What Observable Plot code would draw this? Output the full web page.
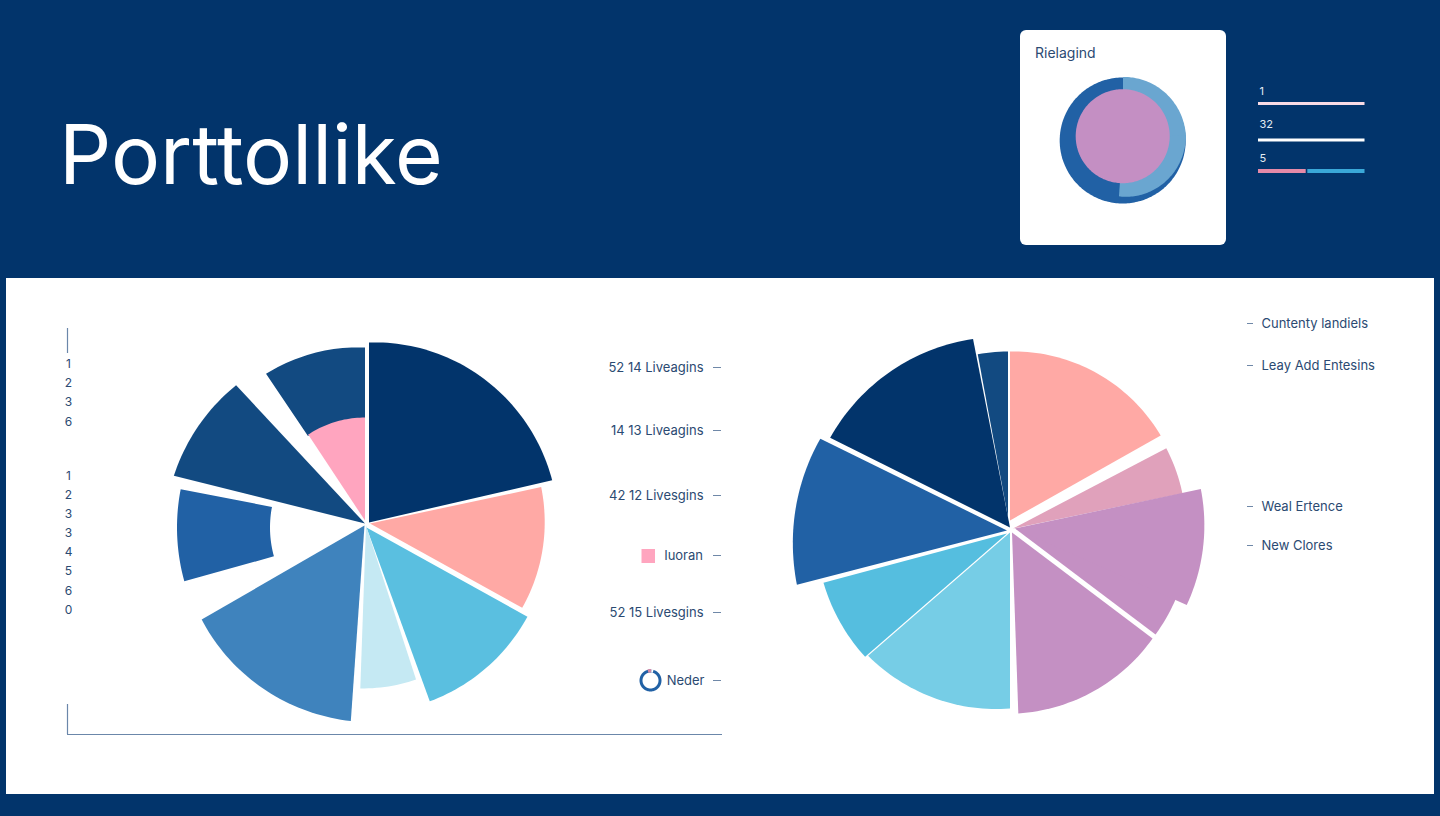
<!DOCTYPE html>
<html>
<head>
<meta charset="utf-8">
<script src="https://cdn.jsdelivr.net/npm/d3@7"></script>
<script src="https://cdn.jsdelivr.net/npm/@observablehq/plot@0.6"></script>
<style>
  html, body { margin: 0; padding: 0; background: #02346b; width: 1440px; height: 816px; overflow: hidden; font-family: Inter, sans-serif; }
  #title { position: absolute; left: 59px; top: 105px; margin: 0; font: 400 82px/100px Inter, sans-serif; color: #fff; }
  #panel { position: absolute; left: 6px; top: 278px; width: 1428px; height: 516px; background: #fff; }
  #card { position: absolute; left: 1020px; top: 30px; width: 206px; height: 215px; background: #fff; border-radius: 6px; }
  #cardTitle { position: absolute; left: 15px; top: 14px; font: 400 14px/17px Inter, sans-serif; color: #2b4a72; }
  #chart { position: absolute; left: 0; top: 0; }
  #chart svg { display: block; background: transparent; }
</style>
</head>
<body>
<h1 id="title">Porttollike</h1>
<div id="panel"></div>
<div id="card"><div id="cardTitle">Rielagind</div></div>
<div id="chart"></div>
<script>
// ---- Left pie (clockwise degrees from north, radii in px units) ----
const pie1Start  = [  0,  78, 119, 162, 184, 254.5, 284, 326, 326.5];
const pie1End    = [ 77, 119, 160, 182, 240, 281, 317, 360, 360];
const pie1RadiusA = [180, 175, 184, 162, 196, 201, 197, 177, 103];
const pie1RadiusB = [188, 174, 185, 163, 188, 201, 189, 173, 103];
const pie1Inner  = [  0,   0,   0,   0,   0, 108,   0, 102,   0];
const pie1ApexX  = [368.5, 369.5, 366, 365.5, 364, 377.5, 364.5, 364.5, 364.5];
const pie1ApexY  = [522, 523, 527, 525, 525, 527, 523, 520, 520];
const pie1Colors = ["#02346b", "#ffa9a5", "#5abfe0", "#c5e9f3", "#3f83bd", "#2161a5", "#124a81", "#124a81", "#ffa5bf"];

// ---- Right pie ----
const pie2Start  = [  0, 62.4, 100, 78, 127, 180, 229, 255.5, 296.5, 349.5];
const pie2End    = [ 60.6, 78.3, 127, 114, 178, 229, 255, 296.2, 348.9, 360];
const pie2RadiusA = [169, 173, 175, 190, 176, 176, 188, 217, 201, 166];
const pie2RadiusB = [173, 173, 176, 188, 181, 188, 190, 208, 192, 166];
const pie2ApexX  = [1009.5, 1012.5, 1014.5, 1014.5, 1011.5, 1009.5, 1006.5, 1006.5, 1009.5, 1007.5];
const pie2ApexY  = [ 520,  528,  528,  528,  532,  532,  533,  530,  527,  517];
const pie2Colors = ["#ffa9a5", "#e0a1bb", "#c490c3", "#c490c3", "#c490c3", "#76cde6", "#55bedf", "#2161a5", "#02346b", "#124a81"];

// ---- Card donut ----
const donutStart  = [0, 0, 87, 0];
const donutEnd    = [360, 90, 184, 360];
const donutRadiusA = [63, 61.5, 63, 47];
const donutRadiusB = [63, 63, 58, 47];
const donutApexX  = [1122.2, 1122.5, 1122.5, 1122.2];
const donutApexY  = [140, 138, 138, 135.7];
const donutColors = ["#2161a5", "#6aa6d0", "#6aa6d0", "#c48fc3"];

// ---- Mini-legend in the header ----
const miniLabels = ["1", "32", "5"];
const miniLabelY = [91, 124, 158];
const miniBarFrom = [1258, 1258, 1258, 1307.3];
const miniBarTo   = [1364.5, 1364.5, 1305.7, 1364.5];
const miniBarY    = [103, 139.5, 170.5, 170.5];
const miniBarHeight = [3.2, 3.2, 4, 4];
const miniBarColors = ["#f9dbe5", "#ffffff", "#e58aa8", "#3aa8d8"];

// ---- Left tick labels ----
const tickLabels = ["1", "2", "3", "6", "1", "2", "3", "3", "4", "5", "6", "0"];
const tickY = [364, 383, 402, 422, 476, 495, 514, 533, 552, 571, 591, 610];

// ---- Labels between the pies ----
const midLabels = ["52 14 Liveagins", "14 13 Liveagins", "42 12 Livesgins", "Iuoran", "52 15 Livesgins", "Neder"];
const midY = [367, 430, 495, 555, 612, 680];
const midEndX = [703, 703, 703, 702.5, 703, 704];

// ---- Labels at the right ----
const rightLabels = ["Cuntenty landiels", "Leay Add Entesins", "Weal Ertence", "New Clores"];
const rightY = [323, 365, 506, 545];

const rad = d => d * Math.PI / 180;
function polar(cx, cy, r, deg) {
  return {x: cx + r * Math.sin(rad(deg)), y: cy - r * Math.cos(rad(deg))};
}
function slicePoints(cx, cy, a0, a1, r0, r1, inner) {
  const n = Math.max(2, Math.ceil(Math.abs(a1 - a0) / 1.5));
  const pts = [];
  for (let i = 0; i <= n; ++i) {
    const t = i / n;
    pts.push(polar(cx, cy, r0 + (r1 - r0) * t, a0 + (a1 - a0) * t));
  }
  if (inner) {
    for (let i = n; i >= 0; --i) {
      pts.push(polar(cx, cy, inner, a0 + (a1 - a0) * i / n));
    }
  } else if (a1 - a0 < 360) {
    pts.push({x: cx, y: cy});
  }
  return pts;
}
function sliceMarks(start, end, ra, rb, inner, ax, ay, colors) {
  return start.map((s, i) =>
    Plot.line(slicePoints(ax[i], ay[i], s, end[i], ra[i], rb[i], inner ? inner[i] : 0),
      {x: "x", y: "y", fill: colors[i], stroke: "none", curve: "linear"}));
}

const ink = "#2b4a72";
const ruleInk = "#6b87aa";
const tickX = 68, midDashA = 713, midDashB = 721, rightDashA = 1247, rightDashB = 1253, rightTextX = 1261;

const plot = Plot.plot({
  width: 1440, height: 816,
  margin: 0,
  x: {domain: [0, 1440], range: [0, 1440], axis: null},
  y: {domain: [0, 816], range: [0, 816], axis: null},
  style: {fontFamily: "Inter, sans-serif", background: "transparent"},
  marks: [
    // frame rules
    Plot.ruleX([67], {y1: 328, y2: 353, stroke: ruleInk, strokeWidth: 1.2}),
    Plot.ruleX([67], {y1: 704, y2: 734, stroke: ruleInk, strokeWidth: 1.2}),
    Plot.ruleY([734], {x1: 67, x2: 722, stroke: ruleInk, strokeWidth: 1.2}),

    // pies
    ...sliceMarks(pie1Start, pie1End, pie1RadiusA, pie1RadiusB, pie1Inner, pie1ApexX, pie1ApexY, pie1Colors),
    ...sliceMarks(pie2Start, pie2End, pie2RadiusA, pie2RadiusB, null, pie2ApexX, pie2ApexY, pie2Colors),
    ...sliceMarks(donutStart, donutEnd, donutRadiusA, donutRadiusB, null, donutApexX, donutApexY, donutColors),

    // left ticks
    Plot.text(tickLabels, {x: () => tickX, y: (d, i) => tickY[i], text: d => d, fill: ink, fontSize: 12, textAnchor: "middle"}),

    // middle labels
    Plot.text(midLabels, {x: (d, i) => midEndX[i], y: (d, i) => midY[i], text: d => d, fill: ink, fontSize: 13, textAnchor: "end"}),
    Plot.ruleY(midY, {x1: midDashA, x2: midDashB, stroke: "#6f88a8", strokeWidth: 1}),

    // right labels
    Plot.text(rightLabels, {x: () => rightTextX, y: (d, i) => rightY[i], text: d => d, fill: ink, fontSize: 13, textAnchor: "start"}),
    Plot.ruleY(rightY, {x1: rightDashA, x2: rightDashB, stroke: "#6f88a8", strokeWidth: 1}),

    // swatch beside "Iuoran"
    Plot.rect([0], {x1: 641.5, x2: 655, y1: 549, y2: 563, fill: "#ffa5bf"}),
    // ring beside "Neder"
    ...sliceMarks([0, 0], [360, 360], [11, 8], [11, 8], null, [650, 650], [680, 680], ["#2161a5", "#ffffff"]),
    ...sliceMarks([345, 5], [365, 16], [11.5, 11.5], [11.5, 11.5], [8, 8], [650, 650], [680, 680], ["#d08aa8", "#ffffff"]),

    // mini legend
    Plot.text(miniLabels, {x: () => 1259, y: (d, i) => miniLabelY[i], text: d => d, fill: "#e4ecf5", fontSize: 11, textAnchor: "start"}),
    Plot.ruleY(miniBarY, {
      x1: (d, i) => miniBarFrom[i], x2: (d, i) => miniBarTo[i],
      stroke: (d, i) => miniBarColors[i], strokeWidth: (d, i) => miniBarHeight[i]
    })
  ]
});
document.getElementById("chart").appendChild(plot);
</script>
</body>
</html>
